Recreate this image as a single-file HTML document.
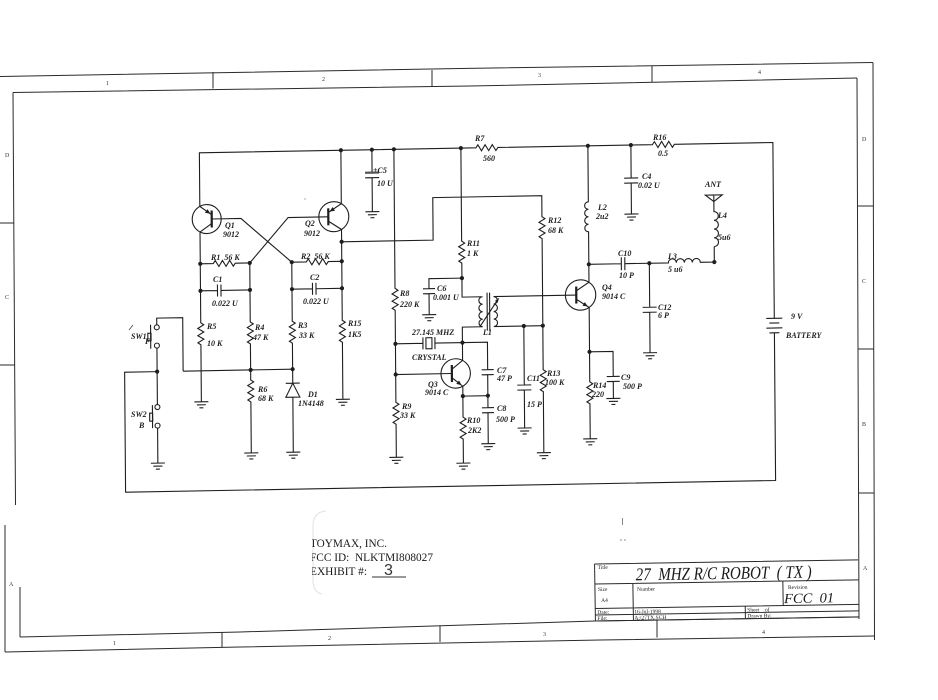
<!DOCTYPE html>
<html><head><meta charset="utf-8"><style>
html,body{margin:0;padding:0;background:#fff;}
svg{display:block;}
.w{stroke:#1e1e1e;stroke-width:1.1;fill:none;stroke-linejoin:miter;}
.b{stroke:#2a2a2a;stroke-width:1;fill:none;}
.l{font-family:"Liberation Serif",serif;font-style:italic;font-weight:bold;font-size:8px;fill:#222;}
.z{font-family:"Liberation Serif",serif;font-size:6px;fill:#333;}
.t{font-family:"Liberation Serif",serif;font-size:5.5px;fill:#222;}
.tm{font-family:"Liberation Serif",serif;font-size:11.5px;fill:#1a1a1a;}
</style></head><body>
<svg width="938" height="700" viewBox="0 0 938 700" xmlns="http://www.w3.org/2000/svg">
<rect x="0" y="0" width="938" height="700" fill="#fff"/>

<!-- ===== BORDER (image coords) ===== -->
<g class="b">
<path d="M0 76.5 L460 68.5 L873 62.5"/>
<path d="M13 92.5 L470 86 L857 78"/>
<path d="M873 62.5 L874.5 640"/>
<path d="M857 78 L859 619"/>
<path d="M20 637 L240 632 L595 621 L859 617"/>
<path d="M5 652 L240 647 L600 640 L874.5 636"/>
<path d="M5 525 V652"/>
<path d="M13 92.5 L15.5 505"/>
<path d="M20 587 V637"/>
<path d="M213 72 V88.5 M432 70 V87 M652 66 V82"/>
<path d="M858 206 H873 M858 349 H873.5 M858.5 493 H874"/>
<path d="M0 223 H13.5 M0 365 H14.5"/>
<path d="M222 632.5 V647.5 M440 626 V642 M657 620 V637.5"/>
</g>
<g class="z">
<text x="106" y="85">1</text><text x="322" y="81">2</text><text x="538" y="77">3</text><text x="758" y="74">4</text>
<text x="862" y="141">D</text><text x="862" y="283">C</text><text x="862" y="426">B</text><text x="863" y="570">A</text>
<text x="5" y="157">D</text><text x="5" y="299">C</text><text x="9" y="586">A</text>
<text x="113" y="645">1</text><text x="328" y="640">2</text><text x="543" y="636">3</text><text x="762" y="634">4</text>
</g>

<!-- ===== SCHEMATIC (design coords, skewed) ===== -->
<g transform="matrix(1,-0.018,0.008,1,-2.8,8.44)">
<g class="w">
<!-- top rail with R7, R16, battery -->
<path d="M201 201.6V148H477.5l2 -3l3.6 6l3.6 -6l3.6 6l3.6 -6l3.6 6l2 -3H654l2 -3l3.6 6l3.6 -6l3.6 6l3.6 -6l3.6 6l2 -3H774.5V323.8"/>
<path d="M766.5 323.8H782.5M769.5 328.5H779.5M766.5 333.5H782.5M769.5 338.3H779.5"/>
<path d="M774.5 338.3V486H124.5V366H157"/>
<!-- Q1 -->
<circle cx="207.8" cy="214.4" r="14.5"/>
<path d="M201 201.6L212.8 210M212.8 218.8L201 227.2"/>
<path d="M212.8 205.9V222.9" stroke-width="2.2"/>
<path d="M201 227.2V318l3 2l-6 3.6l6 3.6l-6 3.6l6 3.6l-6 3.6l3 2V397"/>
<path d="M201 259H214l2 -3l3.6 6l3.6 -6l3.6 6l3.6 -6l3.6 6l2 -3H250.5"/>
<path d="M201 286H218M218 280V292M221.5 280V292M221.5 286H250.5"/>
<path d="M212.8 214.4H242L292.5 259"/>
<!-- Q2 -->
<circle cx="334.9" cy="214.3" r="15"/>
<path d="M329.4 214.3H289.2L250.5 259"/>
<path d="M342.5 148V201.4L329.4 210M329.4 218.6L342.5 227.2V318l3 2l-6 3.6l6 3.6l-6 3.6l6 3.6l-6 3.6l3 2V397"/>
<path d="M329.4 205.8V222.8" stroke-width="2.2"/>
<path d="M250.5 259V318l3 2l-6 3.6l6 3.6l-6 3.6l6 3.6l-6 3.6l3 2V376l3 2l-6 3.6l6 3.6l-6 3.6l6 3.6l-6 3.6l3 2V449"/>
<path d="M292.5 259H307l2 -3l3.6 6l3.6 -6l3.6 6l3.6 -6l3.6 6l2 -3H342.5"/>
<path d="M292.5 286H313M313 280V292M316.5 280V292M316.5 286H342.5"/>
<path d="M292.5 259V318l3 2l-6 3.6l6 3.6l-6 3.6l6 3.6l-6 3.6l3 2V380"/>
<path d="M285.5 380H299.5M292.5 380L285.5 394H299.5Z"/>
<path d="M292.5 394V449"/>
<path d="M183 366H292.5"/>
<!-- switches -->
<path d="M183 366V312.5H157V319.2"/>
<circle cx="157" cy="321.7" r="2.5"/><circle cx="157" cy="340" r="2.5"/>
<path d="M157 342.5V398.9"/>
<circle cx="157" cy="401.4" r="2.5"/><circle cx="157" cy="420" r="2.5"/>
<path d="M157 422.5V457.5"/>
<path d="M150.8 319V343M152 399.4V422.4"/>
<rect x="148" y="327.5" width="3.2" height="7.5"/>
<rect x="149.2" y="407.4" width="3" height="8"/>
<!-- link to R12/R13 -->
<path d="M342.5 239.5H434V197H543V218l3 2l-6 3.6l6 3.6l-6 3.6l6 3.6l-6 3.6l3 2V371l3 2l-6 3.6l6 3.6l-6 3.6l6 3.6l-6 3.6l3 2V454"/>
<!-- C5 -->
<path d="M373.5 148V171M366.5 176H380.5M373.5 176V210"/>
<rect x="366.5" y="169.8" width="14" height="2.2" fill="#555" stroke="none"/>
<!-- R8 / R9 -->
<path d="M395.5 148V287l3 2l-6 3.6l6 3.6l-6 3.6l6 3.6l-6 3.6l3 2V401l3 2l-6 3.6l6 3.6l-6 3.6l6 3.6l-6 3.6l3 2V456"/>
<!-- crystal, C7, C8 -->
<path d="M395.5 342.5H423M423 336.5V348.5M435 336.5V348.5M435 342.5H487.5V370M481.5 370H493.5M481.5 375H493.5M487.5 375V408M481.5 408H493.5M481.5 413H493.5M487.5 413V444"/>
<rect x="426" y="337" width="6" height="11"/>
<path d="M487.5 396H462.5"/>
<!-- Q3 -->
<circle cx="455.5" cy="373.2" r="14.7"/>
<path d="M395.5 373.2H451.7"/>
<path d="M451.7 364.7V381.7" stroke-width="2.2"/>
<path d="M451.7 369L462.5 360.3V342.5M451.7 377.4L462.5 386.1V417l3 2l-6 3.6l6 3.6l-6 3.6l6 3.6l-6 3.6l3 2V463"/>
<!-- R11, L1 -->
<path d="M462.5 148V241l3 2l-6 3.6l6 3.6l-6 3.6l6 3.6l-6 3.6l3 2V297H483a3.75 3.75 0 0 0 0 7.5a3.75 3.75 0 0 0 0 7.5a3.75 3.75 0 0 0 0 7.5a3.75 3.75 0 0 0 0 7.5H462.5V342.5"/>
<path d="M462.5 278H429.5V288M423.5 288H435.5M423.5 293H435.5M429.5 293V314"/>
<path d="M494 297a3.75 3.75 0 0 1 0 7.5a3.75 3.75 0 0 1 0 7.5a3.75 3.75 0 0 1 0 7.5a3.75 3.75 0 0 1 0 7.5H543"/>
<path d="M494 297H576.7"/>
<path d="M487.5 293V331M490 293V331"/>
<path d="M480 327L499 299"/>
<!-- C11 -->
<path d="M524 327V386M517 386H531M517 391H531M524 391V429"/>
<!-- Q4, L2 -->
<circle cx="581" cy="297" r="15.2"/>
<path d="M589.5 148V204a3.75 3.75 0 0 0 0 7.5a3.75 3.75 0 0 0 0 7.5a3.75 3.75 0 0 0 0 7.5a3.75 3.75 0 0 0 0 7.5V284.4L576.7 292.8"/>
<path d="M576.7 288.5V305.5" stroke-width="2.2"/>
<path d="M576.7 301.2L589.5 309.6V384l3 2l-6 3.6l6 3.6l-6 3.6l6 3.6l-6 3.6l3 2V441"/>
<!-- C10, L3, L4, ANT -->
<path d="M589.5 266.5H622M622 260V273M625.5 260V273M625.5 266.5H669a4 4 0 0 1 8 0a4 4 0 0 1 8 0a4 4 0 0 1 8 0a4 4 0 0 1 8 0H715V251"/>
<path d="M715 206V216a4.375 4.375 0 0 1 0 8.75a4.375 4.375 0 0 1 0 8.75a4.375 4.375 0 0 1 0 8.75a4.375 4.375 0 0 1 0 8.75"/>
<path d="M706.5 199.4H723.5L715 206ZM715 199.4V206"/>
<!-- C12 -->
<path d="M650 266.5V310.5M643 310.5H657M643 315.5H657M650 315.5V356"/>
<!-- C9 -->
<path d="M589.5 354H613V379M606.5 379H619.5M606.5 384H619.5M613 384V401"/>
<!-- C4 -->
<path d="M632.5 148V181M625.5 181H639.5M625.5 186H639.5M632.5 186V217"/>
<!-- grounds -->
<path d="M366.5 210h14M369 213h9M371.5 216h4
M194 397h14M196.5 400h9M199 403h4
M335.5 397h14M338 400h9M340.5 403h4
M243.5 449h14M246 452h9M248.5 455h4
M285.5 449h14M288 452h9M290.5 455h4
M150 457.5h14M152.5 460.5h9M155 463.5h4
M422.5 314h14M425 317h9M427.5 320h4
M388.5 456h14M391 459h9M393.5 462h4
M455.5 463h14M458 466h9M460.5 469h4
M480.5 444h14M483 447h9M485.5 450h4
M517 429h14M519.5 432h9M522 435h4
M536 454h14M538.5 457h9M541 460h4
M625.5 217h14M628 220h9M630.5 223h4
M643 356h14M645.5 359h9M648 362h4
M606 401h14M608.5 404h9M611 407h4
M582.5 441h14M585 444h9M587.5 447h4"/>
</g>
<!-- arrowheads -->
<g fill="#1e1e1e">
<polygon points="211.5,209.1 206.1,208.0 208.7,204.4"/>
<polygon points="330.7,209.2 333.7,204.6 336.1,208.3"/>
<polygon points="461.3,385.1 456.0,383.7 458.8,380.3"/>
<polygon points="588.2,308.7 582.8,307.8 585.2,304.2"/>
<polygon points="499,299 498.2,303.3 495.3,301.3"/>
</g>
<!-- nodes -->
<g fill="#1e1e1e">
<circle cx="342.5" cy="148" r="2.1"/><circle cx="373.5" cy="148" r="2.1"/><circle cx="395.5" cy="148" r="2.1"/>
<circle cx="462.5" cy="148" r="2.1"/><circle cx="589.5" cy="148" r="2.1"/><circle cx="632.5" cy="148" r="2.1"/>
<circle cx="342.5" cy="239.5" r="2.1"/>
<circle cx="201" cy="259" r="2.1"/><circle cx="250.5" cy="259" r="2.1"/><circle cx="292.5" cy="259" r="2.1"/><circle cx="342.5" cy="259" r="2.1"/>
<circle cx="201" cy="286" r="2.1"/><circle cx="250.5" cy="286" r="2.1"/><circle cx="292.5" cy="286" r="2.1"/><circle cx="342.5" cy="286" r="2.1"/>
<circle cx="250.5" cy="366" r="2.1"/><circle cx="292.5" cy="366" r="2.1"/><circle cx="157" cy="366" r="2.1"/>
<circle cx="462.5" cy="278" r="2.1"/><circle cx="395.5" cy="342.5" r="2.1"/><circle cx="462.5" cy="342.5" r="2.1"/>
<circle cx="395.5" cy="373.2" r="2.1"/><circle cx="462.5" cy="396" r="2.1"/><circle cx="487.5" cy="396" r="2.1"/>
<circle cx="524" cy="327" r="2.1"/><circle cx="543" cy="327" r="2.1"/>
<circle cx="589.5" cy="266.5" r="2.1"/><circle cx="650" cy="266.5" r="2.1"/><circle cx="715" cy="266.5" r="2.1"/>
<circle cx="589.5" cy="354" r="2.1"/>
</g>
</g>

<!-- ===== LABELS (image coords) ===== -->
<g class="l">
<text x="225" y="228">Q1</text><text x="223" y="237">9012</text>
<text x="305" y="226">Q2</text><text x="304" y="236">9012</text>
<text x="211" y="260">R1&#160;&#160;56 K</text>
<text x="213" y="282">C1</text><text x="212" y="306">0.022 U</text>
<text x="301" y="259">R2&#160;&#160;56 K</text>
<text x="310" y="280">C2</text><text x="303" y="304">0.022 U</text>
<text x="207" y="329">R5</text><text x="207" y="346">10 K</text>
<text x="255" y="330">R4</text><text x="253" y="340">47 K</text>
<text x="298" y="328">R3</text><text x="299" y="338">33 K</text>
<text x="348" y="326">R15</text><text x="348" y="337">1K5</text>
<text x="131" y="339">SW1</text><text x="145" y="344">F</text>
<text x="131" y="417">SW2</text><text x="139" y="428">B</text>
<text x="258" y="392">R6</text><text x="258" y="401">68 K</text>
<text x="308" y="397">D1</text><text x="298" y="406">1N4148</text>
<text x="373" y="173">+C5</text><text x="377" y="186">10 U</text>
<text x="475" y="141">R7</text><text x="483" y="161">560</text>
<text x="467" y="246">R11</text><text x="467" y="256">1 K</text>
<text x="548" y="223">R12</text><text x="548" y="233">68 K</text>
<text x="400" y="296">R8</text><text x="400" y="307">220 K</text>
<text x="437" y="291">C6</text><text x="433" y="300">0.001 U</text>
<text x="483" y="335">L1</text>
<text x="412" y="335">27.145 MHZ</text>
<text x="412" y="360">CRYSTAL</text>
<text x="428" y="387">Q3</text><text x="425" y="395">9014 C</text>
<text x="497" y="373">C7</text><text x="497" y="381">47 P</text>
<text x="497" y="411">C8</text><text x="496" y="422">500 P</text>
<text x="467" y="423">R10</text><text x="468" y="433">2K2</text>
<text x="402" y="409">R9</text><text x="400" y="418">33 K</text>
<text x="527" y="381">C11</text><text x="527" y="407">15 P</text>
<text x="547" y="376">R13</text><text x="545" y="385">100 K</text>
<text x="618" y="256">C10</text><text x="619" y="278">10 P</text>
<text x="668" y="259">L3</text><text x="668" y="272">5 u6</text>
<text x="602" y="290">Q4</text><text x="602" y="299">9014 C</text>
<text x="658" y="310">C12</text><text x="658" y="318">6 P</text>
<text x="621" y="380">C9</text><text x="623" y="389">500 P</text>
<text x="593" y="388">R14</text><text x="592" y="397">220</text>
<text x="791" y="319">9 V</text><text x="786" y="338">BATTERY</text>
<text x="653" y="140">R16</text><text x="658" y="156">0.5</text>
<text x="642" y="179">C4</text><text x="638" y="188">0.02 U</text>
<text x="705" y="187">ANT</text>
<text x="598" y="210">L2</text><text x="596" y="219">2u2</text>
<text x="718" y="218">L4</text><text x="718" y="240">5u6</text>
</g>
<path d="M129 330 L133 325" stroke="#444" stroke-width="0.8"/>

<!-- ===== TITLE BLOCK ===== -->
<g transform="rotate(-0.9 726 592)">
<g class="b">
<path d="M595 562H858.5M595 582H858.5M595 606.5H858.5M595 613H858.5M595 619H858.5"/>
<path d="M595 562V619M633 582V619M783 582V606.5M745 606.5V619"/>
</g>
<text class="t" x="598" y="567">Title</text>
<text x="636" y="579" textLength="176" lengthAdjust="spacingAndGlyphs" style="font-family:'Liberation Serif',serif;font-style:italic;font-size:18px;fill:#1a1a1a;">27&#160; MHZ R/C ROBOT&#160; ( TX )</text>
<text class="t" x="598" y="589">Size</text>
<text class="t" x="601" y="600">A4</text>
<text class="t" x="637" y="589.5">Number</text>
<text class="t" x="788" y="590">Revision</text>
<text x="784" y="604" textLength="50" lengthAdjust="spacingAndGlyphs" style="font-family:'Liberation Serif',serif;font-style:italic;font-size:14px;fill:#1a1a1a;">FCC&#160; 01</text>
<text class="t" x="597" y="612">Date:</text>
<text class="t" x="634" y="612">16-Jul-1998</text>
<text class="t" x="747" y="612">Sheet&#160;&#160;&#160; of</text>
<text class="t" x="597" y="618">File:</text>
<text class="t" x="634" y="618">A:\27TX.SCH</text>
<text class="t" x="747" y="618">Drawn By:</text>
</g>

<!-- ===== TOYMAX STAMP ===== -->
<path d="M326 511 Q313 512 313 526 L313 580 Q313 592 322 594" stroke="#e2e2e2" stroke-width="1" fill="none"/>
<clipPath id="cp"><rect x="312" y="500" width="200" height="100"/></clipPath>
<g clip-path="url(#cp)">
<text class="tm" x="310" y="547" textLength="77" lengthAdjust="spacingAndGlyphs">TOYMAX, INC.</text>
<text class="tm" x="310" y="561" textLength="123" lengthAdjust="spacingAndGlyphs">FCC ID:&#160; NLKTMI808027</text>
<text class="tm" x="310" y="575" textLength="57" lengthAdjust="spacingAndGlyphs">EXHIBIT #:</text>
</g>
<text x="384" y="575" style="font-family:'Liberation Sans',sans-serif;font-size:16px;fill:#333;">3</text>
<path d="M372 577 H406" stroke="#333" stroke-width="1"/>

<!-- specks -->
<path d="M622.5 518 V525" stroke="#888" stroke-width="1"/>
<circle cx="621" cy="540" r="0.8" fill="#888"/><circle cx="625" cy="540" r="0.8" fill="#888"/>
<circle cx="305" cy="199" r="0.7" fill="#999"/>
</svg>
</body></html>
